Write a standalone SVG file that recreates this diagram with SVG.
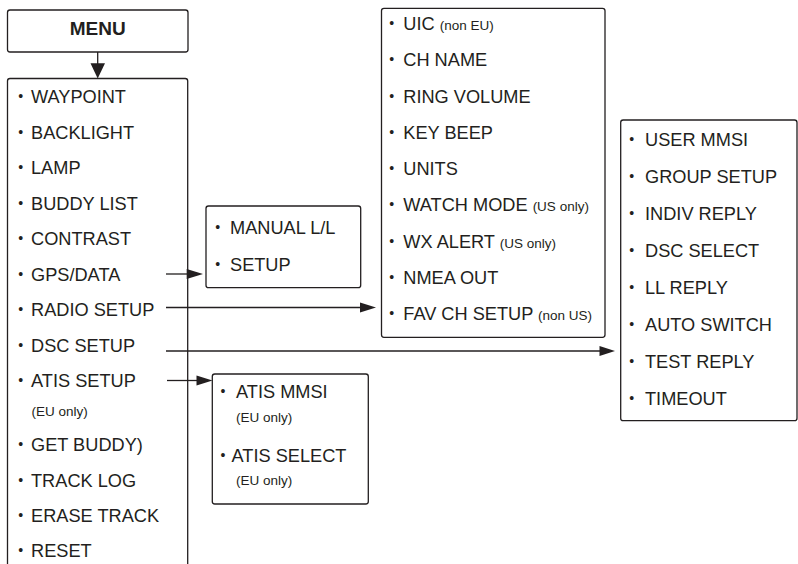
<svg xmlns="http://www.w3.org/2000/svg" width="798" height="564" viewBox="0 0 798 564">
<defs>
<style>
text{font-family:"Liberation Sans",Arial,sans-serif;fill:#231f20;font-size:18.2px}
.t{font-weight:bold;font-size:19px}
.s{font-size:13.5px}
.b{font-size:14px}
.box{fill:#fff;stroke:#231f20;stroke-width:1.3}
.ln{stroke:#231f20;stroke-width:1.3;fill:none}
.ah{fill:#231f20;stroke:none}
</style>
</defs>
<rect width="798" height="564" fill="#fff"/>

<g id="menu">
<rect class="box" x="7.5" y="10" width="180.5" height="42" rx="2.5"/>
<text class="t" x="97.7" y="35" text-anchor="middle">MENU</text>
</g>

<g id="menu-list">
<path class="box" d="M7.5,565 V81 Q7.5,78.5 10,78.5 H185.2 Q187.7,78.5 187.7,81 V565"/>
<text y="103"><tspan class="b" x="18.3" dy="-2">•</tspan><tspan x="31" dy="2">WAYPOINT</tspan></text>
<text y="138.5"><tspan class="b" x="18.3" dy="-2">•</tspan><tspan x="31" dy="2">BACKLIGHT</tspan></text>
<text y="174"><tspan class="b" x="18.3" dy="-2">•</tspan><tspan x="31" dy="2">LAMP</tspan></text>
<text y="209.5"><tspan class="b" x="18.3" dy="-2">•</tspan><tspan x="31" dy="2">BUDDY LIST</tspan></text>
<text y="245"><tspan class="b" x="18.3" dy="-2">•</tspan><tspan x="31" dy="2">CONTRAST</tspan></text>
<text y="280.5"><tspan class="b" x="18.3" dy="-2">•</tspan><tspan x="31" dy="2">GPS/DATA</tspan></text>
<text y="316"><tspan class="b" x="18.3" dy="-2">•</tspan><tspan x="31" dy="2">RADIO SETUP</tspan></text>
<text y="351.5"><tspan class="b" x="18.3" dy="-2">•</tspan><tspan x="31" dy="2">DSC SETUP</tspan></text>
<text y="387"><tspan class="b" x="18.3" dy="-2">•</tspan><tspan x="31" dy="2">ATIS SETUP</tspan></text>
<text class="s" x="31.5" y="416">(EU only)</text>
<text y="451"><tspan class="b" x="18.3" dy="-2">•</tspan><tspan x="31" dy="2">GET BUDDY)</tspan></text>
<text y="486.5"><tspan class="b" x="18.3" dy="-2">•</tspan><tspan x="31" dy="2">TRACK LOG</tspan></text>
<text y="522"><tspan class="b" x="18.3" dy="-2">•</tspan><tspan x="31" dy="2">ERASE TRACK</tspan></text>
<text y="557"><tspan class="b" x="18.3" dy="-2">•</tspan><tspan x="31" dy="2">RESET</tspan></text>
</g>

<g id="gps-data">
<rect class="box" x="206" y="206" width="154.7" height="81.7" rx="2.5"/>
<text y="234"><tspan class="b" x="215.3" dy="-2">•</tspan><tspan x="230" dy="2">MANUAL L/L</tspan></text>
<text y="271"><tspan class="b" x="215.3" dy="-2">•</tspan><tspan x="230" dy="2">SETUP</tspan></text>
</g>

<g id="radio-setup">
<rect class="box" x="381.5" y="8.3" width="223.5" height="329" rx="2.5"/>
<text y="30"><tspan class="b" x="389.3" dy="-2">•</tspan><tspan x="403.3" dy="2">UIC <tspan class="s">(non EU)</tspan></tspan></text>
<text y="66.3"><tspan class="b" x="389.3" dy="-2">•</tspan><tspan x="403.3" dy="2">CH NAME</tspan></text>
<text y="102.5"><tspan class="b" x="389.3" dy="-2">•</tspan><tspan x="403.3" dy="2">RING VOLUME</tspan></text>
<text y="138.8"><tspan class="b" x="389.3" dy="-2">•</tspan><tspan x="403.3" dy="2">KEY BEEP</tspan></text>
<text y="175"><tspan class="b" x="389.3" dy="-2">•</tspan><tspan x="403.3" dy="2">UNITS</tspan></text>
<text y="211.3"><tspan class="b" x="389.3" dy="-2">•</tspan><tspan x="403.3" dy="2">WATCH MODE <tspan class="s">(US only)</tspan></tspan></text>
<text y="247.5"><tspan class="b" x="389.3" dy="-2">•</tspan><tspan x="403.3" dy="2">WX ALERT <tspan class="s">(US only)</tspan></tspan></text>
<text y="283.8"><tspan class="b" x="389.3" dy="-2">•</tspan><tspan x="403.3" dy="2">NMEA OUT</tspan></text>
<text y="320"><tspan class="b" x="389.3" dy="-2">•</tspan><tspan x="403.3" dy="2">FAV CH SETUP <tspan class="s">(non US)</tspan></tspan></text>
</g>

<g id="dsc-setup">
<rect class="box" x="620.7" y="120" width="176.3" height="300.7" rx="2.5"/>
<text y="146"><tspan class="b" x="629.3" dy="-2">•</tspan><tspan x="645" dy="2">USER MMSI</tspan></text>
<text y="183"><tspan class="b" x="629.3" dy="-2">•</tspan><tspan x="645" dy="2">GROUP SETUP</tspan></text>
<text y="220"><tspan class="b" x="629.3" dy="-2">•</tspan><tspan x="645" dy="2">INDIV REPLY</tspan></text>
<text y="257"><tspan class="b" x="629.3" dy="-2">•</tspan><tspan x="645" dy="2">DSC SELECT</tspan></text>
<text y="294"><tspan class="b" x="629.3" dy="-2">•</tspan><tspan x="645" dy="2">LL REPLY</tspan></text>
<text y="331"><tspan class="b" x="629.3" dy="-2">•</tspan><tspan x="645" dy="2">AUTO SWITCH</tspan></text>
<text y="368"><tspan class="b" x="629.3" dy="-2">•</tspan><tspan x="645" dy="2">TEST REPLY</tspan></text>
<text y="405"><tspan class="b" x="629.3" dy="-2">•</tspan><tspan x="645" dy="2">TIMEOUT</tspan></text>
</g>

<g id="atis-setup">
<rect class="box" x="212.3" y="374" width="156" height="130" rx="2.5"/>
<text y="398"><tspan class="b" x="220.6" dy="-2">•</tspan><tspan x="236" dy="2">ATIS MMSI</tspan></text>
<text class="s" x="236" y="422">(EU only)</text>
<text y="461.5"><tspan class="b" x="220.6" dy="-2">•</tspan><tspan x="231.5" dy="2">ATIS SELECT</tspan></text>
<text class="s" x="236" y="485">(EU only)</text>
</g>

<g id="connectors">
<line class="ln" x1="97.7" y1="52" x2="97.7" y2="64"/>
<polygon class="ah" points="90.5,63.3 105,63.3 97.7,78.5"/>
<line class="ln" x1="166" y1="274" x2="188" y2="274"/>
<polygon class="ah" points="186.7,269 203,274 186.7,279"/>
<line class="ln" x1="166" y1="307.5" x2="362" y2="307.5"/>
<polygon class="ah" points="360,302.5 376,307.5 360,312.5"/>
<line class="ln" x1="166" y1="351" x2="601" y2="351"/>
<polygon class="ah" points="599.5,346 615,351 599.5,356"/>
<line class="ln" x1="167" y1="380.5" x2="198" y2="380.5"/>
<polygon class="ah" points="196.5,375.5 212.5,380.5 196.5,385.5"/>
</g>
</svg>
